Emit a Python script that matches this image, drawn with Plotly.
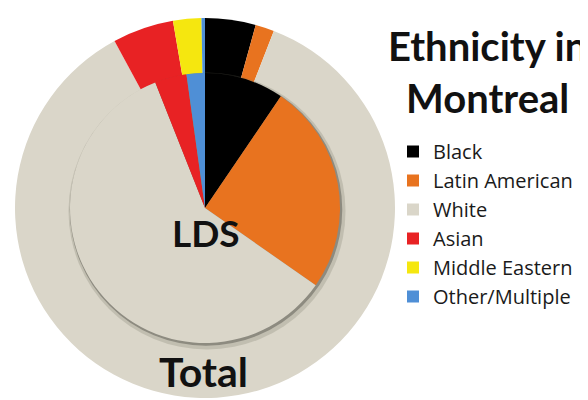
import plotly.graph_objects as go

# The page body has an 8px default margin, so the figure is drawn 8px in
# from the window's top-left; size it to fill the rest of the 588x400 window.
OFF = 8
W, H = 588 - OFF, 400 - OFF

categories = ["Black", "Latin American", "White", "Asian", "Middle Eastern", "Other/Multiple"]
total_values = [4.3, 1.6, 86.2, 5.2, 2.4, 0.3]
lds_values = [9.5, 25.2, 59.3, 3.8, 0.0, 2.2]
colors = ["#000000", "#E8731F", "#DAD6C9", "#E82224", "#F5E70F", "#4F8FD6"]

title_text = "Ethnicity in<br>Montreal"
inner_label = "LDS"
outer_label = "Total"


def px(x):
    return (x - OFF) / W


def py(y):
    return 1 - (y - OFF) / H


def dom(cx, cy, r):
    # cx, cy in window pixels from top-left
    return dict(x=[px(cx - r), px(cx + r)], y=[py(cy + r), py(cy - r)])


CX, CY = 205, 208
R_OUT, R_IN = 190, 135

fig = go.Figure()

fig.add_trace(go.Pie(
    labels=categories, values=total_values, sort=False, direction="clockwise",
    rotation=0, marker=dict(colors=colors, line=dict(width=0)),
    textinfo="none", hoverinfo="label+percent", domain=dom(CX, CY, R_OUT),
    showlegend=True,
))

# soft shadow layers under the inner pie
fig.add_trace(go.Pie(
    labels=["s"], values=[1], marker=dict(colors=["rgba(120,118,105,0.25)"], line=dict(width=0)),
    textinfo="none", hoverinfo="skip", domain=dom(CX + 2, CY + 3, R_IN + 3.5),
    showlegend=False, sort=False,
))
fig.add_trace(go.Pie(
    labels=["s2"], values=[1], marker=dict(colors=["rgba(90,88,80,0.5)"], line=dict(width=0)),
    textinfo="none", hoverinfo="skip", domain=dom(CX + 1, CY + 1.5, R_IN + 1.2),
    showlegend=False, sort=False,
))

fig.add_trace(go.Pie(
    labels=categories, values=lds_values, sort=False, direction="clockwise",
    rotation=0, marker=dict(colors=colors, line=dict(width=0)),
    textinfo="none", hoverinfo="label+percent", domain=dom(CX, CY, R_IN),
    showlegend=True,
))

fig.add_annotation(text="<b>" + title_text + "</b>", x=px(487), y=py(72),
                   xref="paper", yref="paper", showarrow=False,
                   font=dict(family="Lato", size=40, color="#111111"),
                   xanchor="center", yanchor="middle", align="center")
fig.add_annotation(text="<b>" + inner_label + "</b>", x=px(206), y=py(232),
                   xref="paper", yref="paper", showarrow=False,
                   font=dict(family="Lato", size=37, color="#111111"),
                   xanchor="center", yanchor="middle")
fig.add_annotation(text="<b>" + outer_label + "</b>", x=px(203), y=py(371),
                   xref="paper", yref="paper", showarrow=False,
                   font=dict(family="Lato", size=41, color="#111111"),
                   xanchor="center", yanchor="middle")

fig.update_layout(
    width=W, height=H, margin=dict(l=0, r=0, t=0, b=0),
    paper_bgcolor="white", plot_bgcolor="white",
    legend=dict(x=px(393), y=py(132), xanchor="left", yanchor="top",
                bgcolor="rgba(0,0,0,0)", font=dict(family="Open Sans", size=20, color="#1a1a1a"),
                traceorder="normal"),
)

fig.write_html("out.html")
